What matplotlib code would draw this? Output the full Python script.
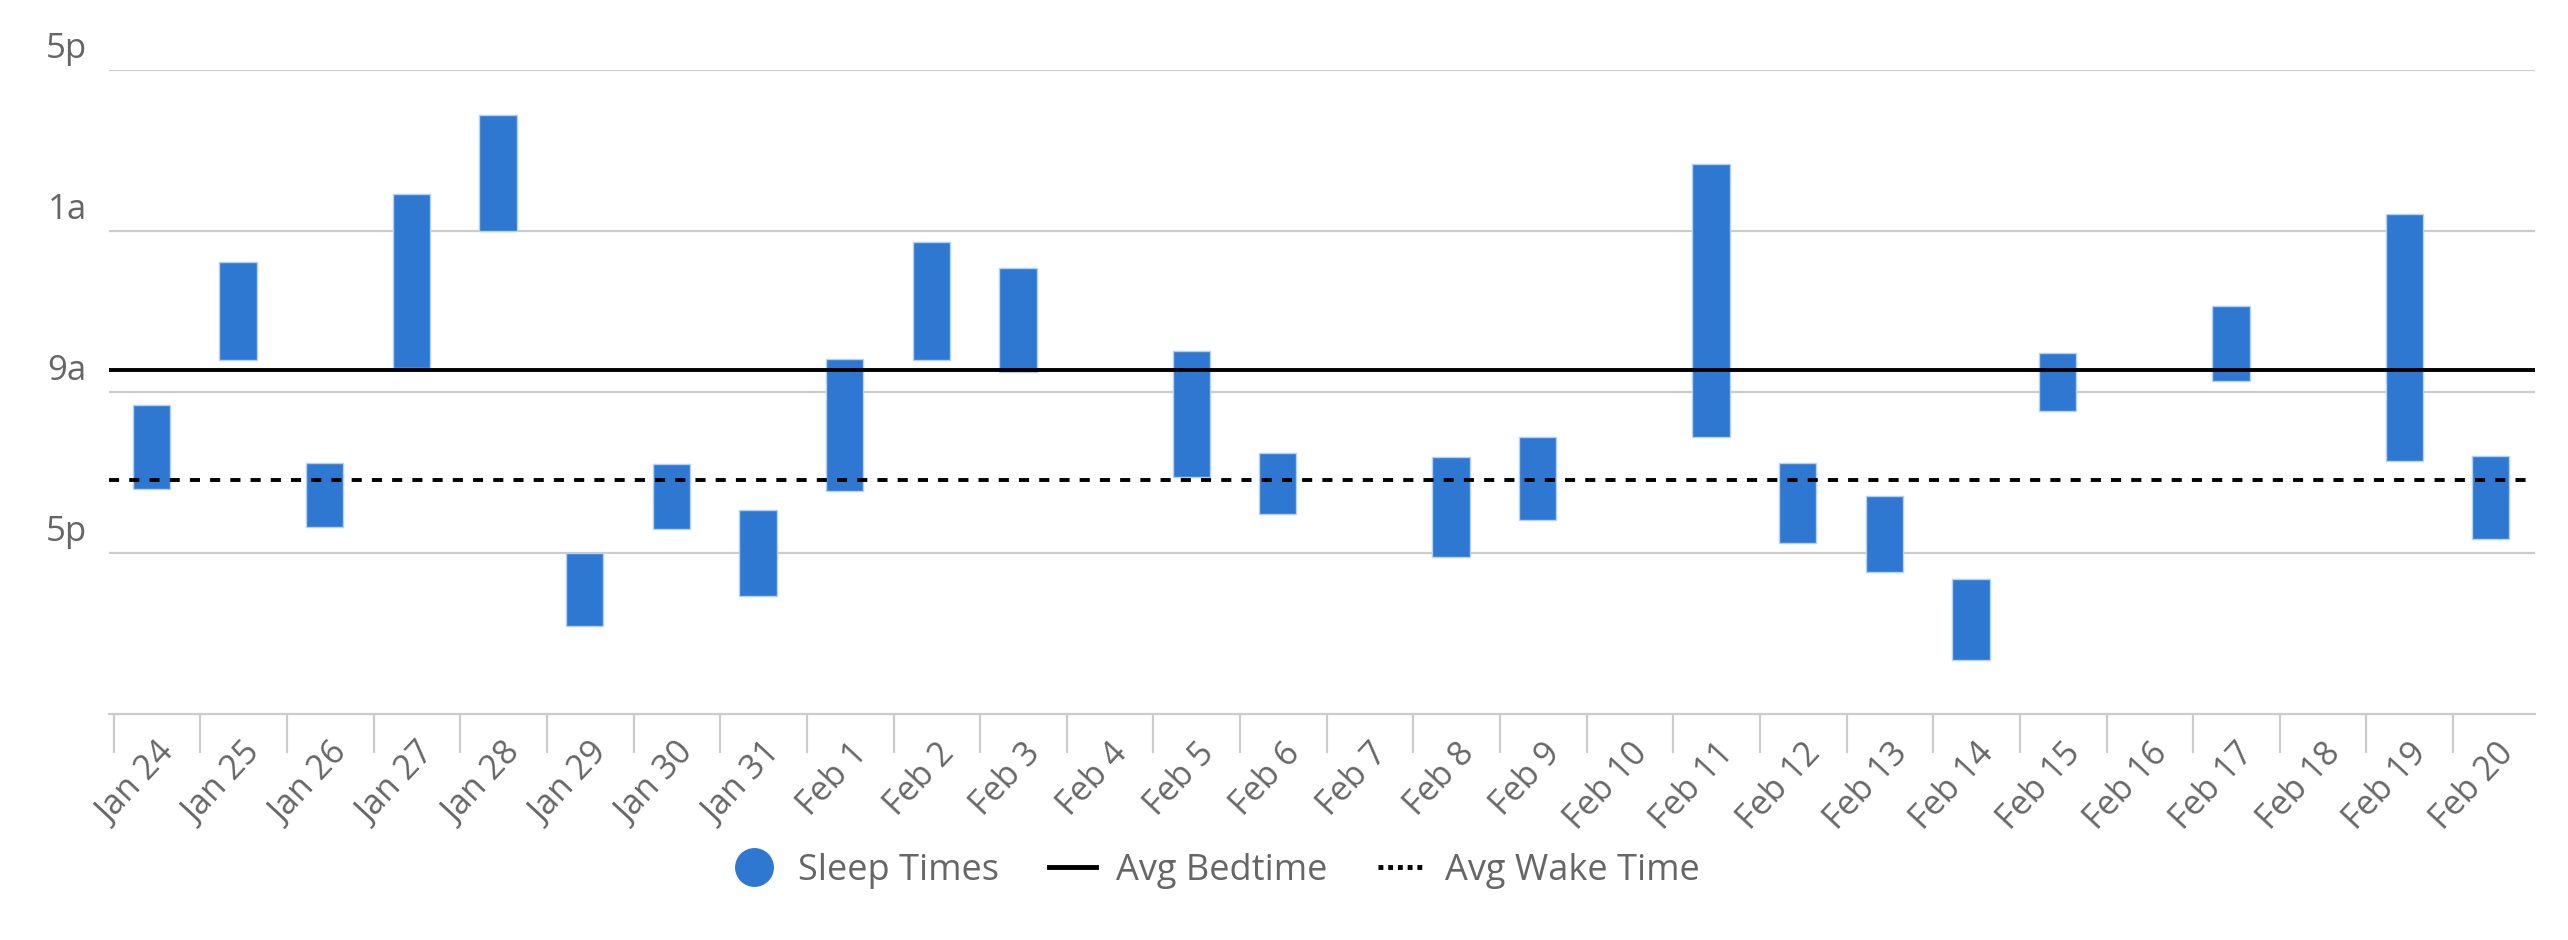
import numpy as np
import matplotlib
matplotlib.use('Agg')
import matplotlib.pyplot as plt
from matplotlib.lines import Line2D
from matplotlib.transforms import ScaledTranslation

plt.rcParams['font.family'] = ['Open Sans', 'DejaVu Sans']

# days on the x axis
days = ['Jan 24', 'Jan 25', 'Jan 26', 'Jan 27', 'Jan 28', 'Jan 29', 'Jan 30', 'Jan 31',
        'Feb 1', 'Feb 2', 'Feb 3', 'Feb 4', 'Feb 5', 'Feb 6', 'Feb 7', 'Feb 8', 'Feb 9',
        'Feb 10', 'Feb 11', 'Feb 12', 'Feb 13', 'Feb 14', 'Feb 15', 'Feb 16', 'Feb 17',
        'Feb 18', 'Feb 19', 'Feb 20']

# sleep start / end, in hours on the chart scale (0 = top "5p", counting downwards)
nan = np.nan
sleep_start = [16.67, 9.57, 19.55, 6.16, 2.27, 23.98, 19.56, 21.86,
               14.38, 8.58, 9.87, nan, 13.98, 19.04, nan, 19.24, 18.23,
               nan, 4.67, 19.55, 21.17, 25.28, 14.07, nan, 11.76,
               nan, 7.17, 19.17]
sleep_end = [20.82, 14.43, 22.73, 14.82, 7.99, 27.63, 22.83, 26.12,
             20.93, 14.43, 15.03, nan, 20.23, 22.06, nan, 24.19, 22.35,
             nan, 18.25, 23.52, 24.94, 29.32, 16.93, nan, 15.44,
             nan, 19.43, 23.33]

avg_bedtime = 14.91
avg_wake = 20.39

y_ticks = [0, 8, 16, 24]
y_labels = ['5p', '1a', '9a', '5p']

blue = '#2E78D2'
grey_txt = '#666666'
grid_c = '#cccccc'

fig = plt.figure(figsize=(25.68, 9.40), dpi=100)
ax = fig.add_axes([109 / 2568, 1 - 714 / 940, (2535 - 109) / 2568, (714 - 69.7) / 940])

x = np.arange(len(days))
start = np.array(sleep_start)
end = np.array(sleep_end)
ax.bar(x, end - start, bottom=start, width=0.43, color=blue,
       edgecolor='#b5d0f0', linewidth=1.0, zorder=3)

ax.axhline(avg_bedtime, color='black', lw=2.8, zorder=4)
ax.axhline(avg_wake, color='black', lw=2.8, ls=(0, (2.6, 2.6)), zorder=4)

ax.set_xlim(-0.49, len(days) - 0.49)
ax.set_ylim(32, 0)

# gridlines
for t in y_ticks:
    ax.axhline(t, color=grid_c, lw=1.6, zorder=1)

for s in ['top', 'right', 'left']:
    ax.spines[s].set_visible(False)
ax.spines['bottom'].set_color(grid_c)
ax.spines['bottom'].set_linewidth(1.6)

# y labels sit above their gridline
ax.set_yticks(y_ticks)
ax.set_yticklabels(y_labels, fontsize=25, color=grey_txt)
ax.tick_params(axis='y', length=0, pad=16)
for lab in ax.get_yticklabels():
    lab.set_verticalalignment('bottom')
    lab.set_transform(lab.get_transform() + ScaledTranslation(0, 0.04, fig.dpi_scale_trans))

# x: labels at centres, tick marks near the band edges
ax.set_xticks(x)
ax.set_xticklabels(days, fontsize=24.5, color=grey_txt, rotation=47,
                   ha='right', va='top', rotation_mode='anchor')
ax.tick_params(axis='x', which='major', length=0, pad=16)
ax.set_xticks(x - 0.435, minor=True)
ax.tick_params(axis='x', which='minor', length=28, width=1.6, color=grid_c)
for lab in ax.get_xticklabels():
    lab.set_transform(lab.get_transform() + ScaledTranslation(0.05, 0, fig.dpi_scale_trans))

handles = [
    Line2D([], [], ls='none', marker='o', markersize=27, color=blue),
    Line2D([], [], color='black', lw=3.5),
    Line2D([], [], color='black', lw=3.5, ls=(0, (1, 1))),
]
fig.legend(handles, ['Sleep Times', 'Avg Bedtime', 'Avg Wake Time'],
           loc='center', bbox_to_anchor=(742 / 1568, 1 - 871 / 940), ncol=3, frameon=False,
           fontsize=26, labelcolor=grey_txt, handlelength=1.3, handletextpad=0.55,
           columnspacing=1.4)

fig.savefig('out.png', dpi=100)
